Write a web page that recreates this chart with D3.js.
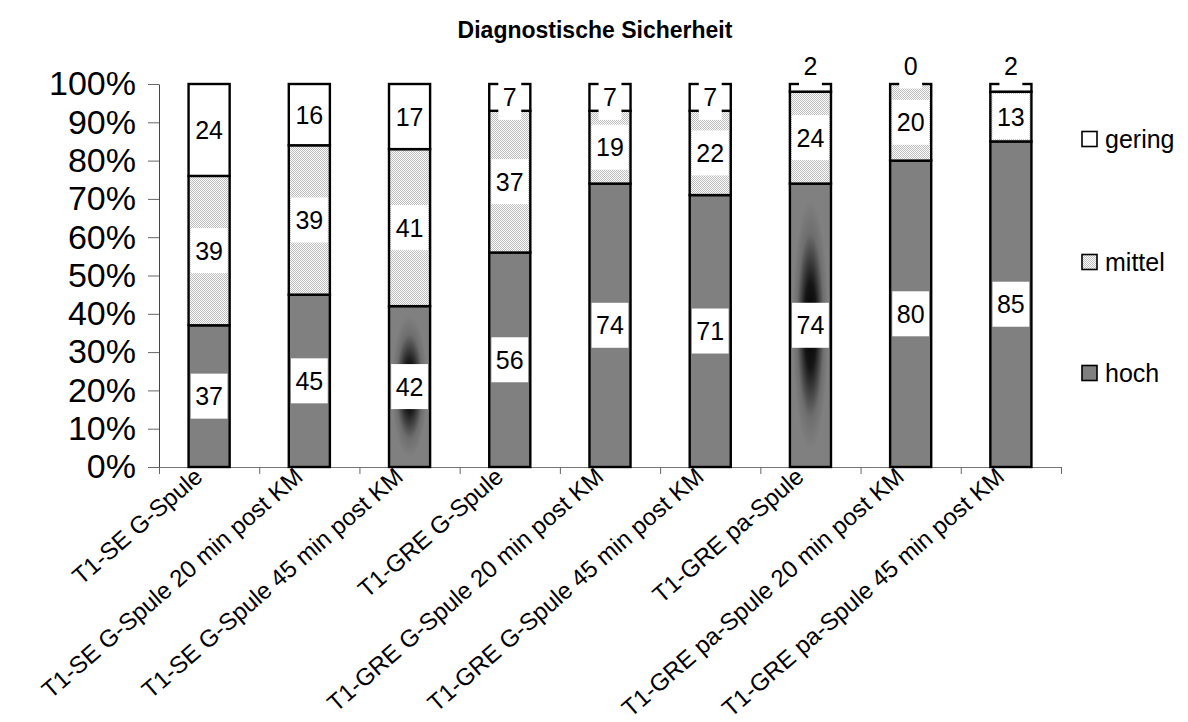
<!DOCTYPE html>
<html>
<head>
<meta charset="utf-8">
<script src="https://cdn.jsdelivr.net/npm/d3@7"></script>
<style>
  html, body { margin: 0; padding: 0; background: #fff; }
  svg { display: block; font-family: "Liberation Sans", Arial, sans-serif; }
</style>
</head>
<body>
<svg id="chart" width="1188" height="722"></svg>
<script>
// ---- data ----
const title = "Diagnostische Sicherheit";
const categories = [
  "T1-SE G-Spule",
  "T1-SE G-Spule 20 min post KM",
  "T1-SE G-Spule 45 min post KM",
  "T1-GRE G-Spule",
  "T1-GRE G-Spule 20 min post KM",
  "T1-GRE G-Spule 45 min post KM",
  "T1-GRE pa-Spule",
  "T1-GRE pa-Spule 20 min post KM",
  "T1-GRE pa-Spule 45 min post KM"
];
const seriesNames = ["hoch", "mittel", "gering"];
const hoch   = [37, 45, 42, 56, 74, 71, 74, 80, 85];
const mittel = [39, 39, 41, 37, 19, 22, 24, 20, 13];
const gering = [24, 16, 17, 7, 7, 7, 2, 0, 2];
const yTicks = [0, 10, 20, 30, 40, 50, 60, 70, 80, 90, 100];
const legendOrder = ["gering", "mittel", "hoch"];
// bars whose "hoch" segment uses a centre gradient in the original
const gradientCats = ["T1-SE G-Spule 45 min post KM", "T1-GRE pa-Spule"];

// ---- layout ----
const svg = d3.select("#chart");
const plot = { left: 159, right: 1061, top: 84, bottom: 467 };

const table = categories.map((c, i) => ({ cat: c, hoch: hoch[i], mittel: mittel[i], gering: gering[i] }));
const stacked = d3.stack().keys(seriesNames)(table);

const x = d3.scaleBand().domain(categories).range([plot.left, plot.right])
  .paddingInner(0.59).paddingOuter(0.295);
const y = d3.scaleLinear().domain([0, 100]).range([plot.bottom, plot.top]);
const xb = d3.scaleLinear().domain([0, categories.length]).range([plot.left, plot.right]);

// ---- defs ----
const defs = svg.append("defs");
const pat = defs.append("pattern").attr("id", "dots").attr("patternUnits", "userSpaceOnUse")
  .attr("width", 2).attr("height", 2);
pat.append("rect").attr("width", 2).attr("height", 2).attr("fill", "#fcfcfc");
pat.append("rect").attr("x", 0).attr("y", 0).attr("width", 1).attr("height", 1).attr("fill", "#bdbdbd");
pat.append("rect").attr("x", 1).attr("y", 1).attr("width", 1).attr("height", 1).attr("fill", "#bdbdbd");

const grad = defs.append("radialGradient").attr("id", "darkCenter")
  .attr("cx", 0.5).attr("cy", 0.5).attr("r", 0.5);
grad.append("stop").attr("offset", 0).attr("stop-color", "#000");
grad.append("stop").attr("offset", 0.3).attr("stop-color", "#151515");
grad.append("stop").attr("offset", 0.65).attr("stop-color", "#6e6e6e");
grad.append("stop").attr("offset", 0.88).attr("stop-color", "#808080");
grad.append("stop").attr("offset", 1).attr("stop-color", "#808080");

const fills = { hoch: "#808080", mittel: "url(#dots)", gering: "#ffffff" };

// ---- title ----
svg.append("text").attr("x", 595).attr("y", 38).attr("text-anchor", "middle")
  .attr("font-size", 23).attr("font-weight", "bold").text(title);

// ---- axes ----
const yAxis = svg.append("g").attr("transform", `translate(${plot.left},0)`)
  .call(d3.axisLeft(y).tickValues(yTicks).tickFormat(d => d + "%").tickSize(11).tickPadding(12).tickSizeOuter(0));
yAxis.select(".domain").attr("stroke", "#444");
yAxis.selectAll(".tick line").attr("stroke", "#666");
yAxis.selectAll("text").attr("font-size", 34).attr("fill", "#000").attr("font-family", "Liberation Sans, Arial, sans-serif");

const xAxis = svg.append("g").attr("transform", `translate(0,${plot.bottom})`)
  .call(d3.axisBottom(xb).tickValues(d3.range(categories.length + 1)).tickFormat("").tickSize(7).tickSizeOuter(0));
xAxis.select(".domain").attr("stroke", "#777");
xAxis.selectAll(".tick line").attr("stroke", "#666");

// category labels
svg.append("g").selectAll("text").data(categories).join("text")
  .attr("text-anchor", "end")
  .attr("transform", d => `translate(${x(d) + x.bandwidth() / 2 - 5},${plot.bottom + 12}) rotate(-41)`)
  .attr("font-size", 24).attr("fill", "#000").text(d => d);

// ---- bars ----
const layers = svg.append("g").selectAll("g").data(stacked).join("g");
layers.selectAll("rect").data(s => s.map(d => ({ key: s.key, d }))).join("rect")
  .attr("x", o => x(o.d.data.cat))
  .attr("width", x.bandwidth())
  .attr("y", o => y(o.d[1]))
  .attr("height", o => y(o.d[0]) - y(o.d[1]))
  .attr("fill", o => (o.key === "hoch" && gradientCats.includes(o.d.data.cat)) ? "url(#darkCenter)" : fills[o.key])
  .attr("stroke", "#000").attr("stroke-width", 2.4);

// ---- data labels ----
const labelG = svg.append("g");
stacked.forEach(s => {
  s.forEach(d => {
    const v = d[1] - d[0];
    const cx = x(d.data.cat) + x.bandwidth() / 2;
    let cy = (y(d[0]) + y(d[1])) / 2;
    if (v < 5) cy = y(100) - 18;
    const g = labelG.append("g");
    const t = g.append("text").attr("x", cx).attr("y", cy).attr("dy", "0.36em")
      .attr("text-anchor", "middle").attr("font-size", 25).attr("fill", "#000").text(v);
    const w = t.node().getComputedTextLength() + 9;
    g.insert("rect", "text").attr("x", cx - w / 2).attr("y", cy - 22.5)
      .attr("width", w).attr("height", 45).attr("fill", "#fff");
  });
});

// ---- legend ----
const legendY = { gering: 139, mittel: 262, hoch: 373 };
const lg = svg.append("g").selectAll("g").data(legendOrder).join("g")
  .attr("transform", d => `translate(1082,${legendY[d]})`);
lg.append("rect").attr("x", 0).attr("y", -7.5).attr("width", 15).attr("height", 15)
  .attr("fill", d => fills[d]).attr("stroke", "#000").attr("stroke-width", 1.6);
lg.append("text").attr("x", 23).attr("dy", "0.35em").attr("font-size", 25).attr("fill", "#000").text(d => d);
</script>
</body>
</html>
